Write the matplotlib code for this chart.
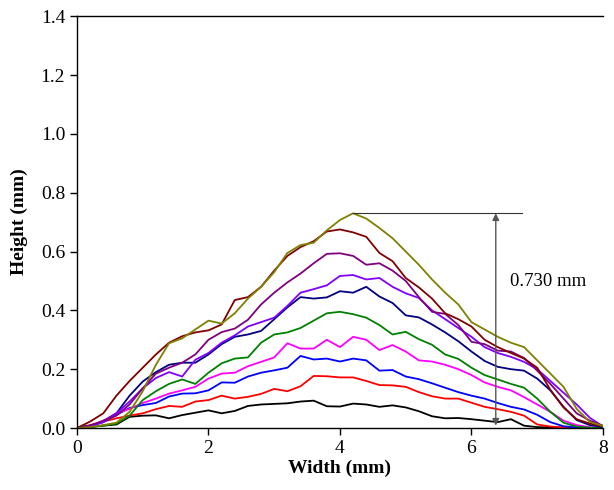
import numpy as np
import matplotlib.pyplot as plt

plt.rcParams['font.family'] = 'Liberation Serif'

# profile widths (mm), 0.2 mm step
width = np.round(np.arange(0, 8.01, 0.2), 1)

h_black = [0, 0.004, 0.008, 0.012, 0.038, 0.042, 0.043, 0.033, 0.044, 0.052,
           0.06, 0.05, 0.058, 0.075, 0.08, 0.082, 0.084, 0.09, 0.093, 0.074,
           0.073, 0.083, 0.08, 0.072, 0.077, 0.07, 0.057, 0.04, 0.033, 0.034,
           0.03, 0.025, 0.02, 0.03, 0.008, 0.003, 0.002, 0.001, 0, 0, 0]
h_red = [0, 0.01, 0.022, 0.033, 0.042, 0.05, 0.064, 0.075, 0.072, 0.09,
         0.095, 0.11, 0.1, 0.106, 0.116, 0.133, 0.125, 0.142, 0.177, 0.176,
         0.172, 0.172, 0.16, 0.146, 0.145, 0.14, 0.122, 0.108, 0.1, 0.1,
         0.086, 0.072, 0.064, 0.055, 0.042, 0.012, 0.005, 0.002, 0.001, 0, 0]
h_blue = [0, 0.008, 0.02, 0.045, 0.068, 0.078, 0.085, 0.107, 0.117, 0.118,
          0.128, 0.155, 0.154, 0.175, 0.188, 0.196, 0.205, 0.245, 0.233, 0.236,
          0.226, 0.236, 0.23, 0.195, 0.197, 0.175, 0.166, 0.152, 0.137, 0.122,
          0.11, 0.1, 0.085, 0.072, 0.063, 0.045, 0.02, 0.006, 0.002, 0, 0]
h_magenta = [0, 0.006, 0.025, 0.05, 0.065, 0.085, 0.1, 0.117, 0.128, 0.14,
             0.168, 0.185, 0.188, 0.21, 0.225, 0.24, 0.288, 0.27, 0.27, 0.3,
             0.275, 0.31, 0.3, 0.265, 0.282, 0.26, 0.23, 0.226, 0.215, 0.2,
             0.18, 0.155, 0.14, 0.128, 0.105, 0.08, 0.055, 0.025, 0.01, 0.003, 0]
h_green = [0, 0.003, 0.008, 0.015, 0.042, 0.095, 0.125, 0.15, 0.165, 0.15,
           0.188, 0.22, 0.236, 0.24, 0.29, 0.318, 0.325, 0.34, 0.365, 0.39,
           0.395, 0.387, 0.375, 0.35, 0.318, 0.327, 0.302, 0.283, 0.25, 0.235,
           0.205, 0.18, 0.165, 0.15, 0.137, 0.1, 0.055, 0.018, 0.005, 0.001, 0]
h_navy = [0, 0.008, 0.022, 0.05, 0.11, 0.158, 0.19, 0.215, 0.222, 0.222,
          0.25, 0.285, 0.31, 0.318, 0.33, 0.37, 0.41, 0.445, 0.44, 0.444,
          0.465, 0.46, 0.48, 0.447, 0.425, 0.383, 0.376, 0.352, 0.325, 0.295,
          0.26, 0.228, 0.208, 0.2, 0.195, 0.168, 0.128, 0.072, 0.027, 0.01, 0.003]
h_violet = [0, 0.005, 0.02, 0.05, 0.09, 0.135, 0.17, 0.19, 0.175, 0.232,
            0.255, 0.29, 0.315, 0.345, 0.36, 0.375, 0.415, 0.46, 0.472, 0.485,
            0.517, 0.52, 0.505, 0.51, 0.48, 0.458, 0.442, 0.4, 0.37, 0.34,
            0.31, 0.275, 0.255, 0.242, 0.225, 0.2, 0.16, 0.12, 0.08, 0.035, 0.005]
h_purple = [0, 0.008, 0.025, 0.042, 0.08, 0.135, 0.185, 0.205, 0.222, 0.25,
            0.3, 0.326, 0.338, 0.368, 0.42, 0.46, 0.495, 0.525, 0.56, 0.592,
            0.594, 0.585, 0.555, 0.56, 0.535, 0.5, 0.445, 0.395, 0.388, 0.35,
            0.293, 0.285, 0.263, 0.26, 0.238, 0.195, 0.15, 0.1, 0.05, 0.025, 0.008]
h_darkred = [0, 0.022, 0.05, 0.11, 0.16, 0.205, 0.25, 0.29, 0.312, 0.325,
             0.332, 0.352, 0.435, 0.445, 0.48, 0.535, 0.585, 0.615, 0.635, 0.668,
             0.675, 0.665, 0.65, 0.595, 0.567, 0.51, 0.478, 0.44, 0.39, 0.37,
             0.345, 0.3, 0.275, 0.255, 0.236, 0.205, 0.13, 0.07, 0.03, 0.015, 0.006]
h_olive = [0, 0.003, 0.01, 0.018, 0.055, 0.125, 0.215, 0.288, 0.305, 0.335,
           0.365, 0.355, 0.39, 0.44, 0.48, 0.53, 0.595, 0.622, 0.63, 0.672,
           0.707, 0.73, 0.712, 0.68, 0.645, 0.6, 0.555, 0.505, 0.46, 0.42,
           0.36, 0.335, 0.31, 0.29, 0.275, 0.23, 0.185, 0.14, 0.065, 0.021, 0.007]

profiles = [h_black, h_red, h_blue, h_magenta, h_green,
            h_navy, h_violet, h_purple, h_darkred, h_olive]
colors = ['#000000', '#ff0000', '#0000ff', '#ff00ff', '#008000',
          '#000080', '#8000ff', '#800080', '#800000', '#808000']

peak_x, peak_h = 4.2, 0.730

fig = plt.figure(figsize=(6.14, 4.90), dpi=100)
ax = fig.add_axes([0.1254, 0.1265, 0.8566, 0.8405])

for h, c in zip(profiles, colors):
    ax.plot(width, h, color=c, lw=1.3)

# max height marker
ax.plot([peak_x, 6.77], [peak_h, peak_h], color='#333333', lw=0.8)
ax.annotate('', xy=(6.37, 0.008), xytext=(6.37, peak_h),
            arrowprops=dict(arrowstyle='<|-|>', color='#555555', lw=1.0,
                            mutation_scale=10, shrinkA=0, shrinkB=0))
ax.text(6.58, 0.497, '%.3f mm' % peak_h, fontsize=13.5, va='center', ha='left')

ax.set_xlim(0, 8)
ax.set_ylim(0, 1.4)
ax.set_xticks([0, 2, 4, 6, 8])
ax.set_yticks(np.arange(0, 1.41, 0.2))
ax.yaxis.set_major_formatter(plt.FormatStrFormatter('%.1f'))
ax.tick_params(direction='out', length=5, width=1, labelsize=14)
ax.spines['right'].set_visible(False)
for s in ['left', 'bottom', 'top']:
    ax.spines[s].set_linewidth(1.0)

ax.set_xlabel('Width (mm)', fontsize=14, fontweight='bold', labelpad=2)
ax.set_ylabel('Height (mm)', fontsize=14, fontweight='bold', labelpad=9)

fig.savefig('out.png', dpi=100)
